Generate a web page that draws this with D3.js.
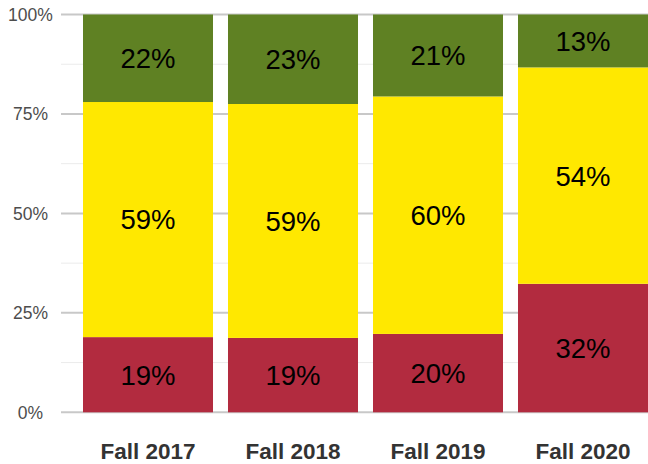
<!DOCTYPE html>
<html>
<head>
<meta charset="utf-8">
<script src="https://cdn.jsdelivr.net/npm/d3@7"></script>
<style>
  body { margin: 0; background: #fff; }
  svg { display: block; font-family: "Liberation Sans", Arial, sans-serif; }
</style>
</head>
<body>
<div id="chart"></div>
<script>
var width = 648,
    height = 464;

// categories and stacked shares (percent), bottom to top
var terms = ["Fall 2017", "Fall 2018", "Fall 2019", "Fall 2020"];
var redVals = [18.9, 18.7, 19.7, 32.3];
var yellowVals = [59.1, 58.8, 59.7, 54.4];
var greenVals = [22.0, 22.5, 20.6, 13.3];
var yTicks = [0, 0.25, 0.5, 0.75, 1];
var yMinor = [0.125, 0.375, 0.625, 0.875];

var colors = ["#b22b3f", "#ffe800", "#5f8123"];

var svg = d3.select("#chart").append("svg")
    .attr("width", width)
    .attr("height", height);

// panel runs a bit past the right edge, like the original crop
var x = d3.scaleBand()
    .domain(terms)
    .range([75.5, 655.5])
    .paddingInner(0.1034)
    .paddingOuter(0.0517);

var y = d3.scaleLinear()
    .domain([0, 1])
    .range([412.3, 14.5]);

// gridlines
svg.append("g").selectAll("line.minor")
    .data(yMinor)
    .enter().append("line")
    .attr("class", "minor")
    .attr("x1", 61).attr("x2", width)
    .attr("y1", function(d) { return y(d); })
    .attr("y2", function(d) { return y(d); })
    .attr("stroke", "#ebebeb")
    .attr("stroke-width", 1);

svg.append("g").selectAll("line.major")
    .data(yTicks)
    .enter().append("line")
    .attr("class", "major")
    .attr("x1", 61).attr("x2", width)
    .attr("y1", function(d) { return y(d); })
    .attr("y2", function(d) { return y(d); })
    .attr("stroke", "#c8c8c8")
    .attr("stroke-width", 2);

var rows = terms.map(function(t, i) {
    return { term: t, red: redVals[i], yellow: yellowVals[i], green: greenVals[i] };
});

var stack = d3.stack().keys(["red", "yellow", "green"]);
var series = stack(rows);

var layer = svg.append("g").selectAll("g")
    .data(series)
    .enter().append("g")
    .attr("fill", function(d, i) { return colors[i]; });

layer.selectAll("rect")
    .data(function(d) { return d; })
    .enter().append("rect")
    .attr("x", function(d) { return x(d.data.term); })
    .attr("width", x.bandwidth())
    .attr("y", function(d) { return y(d[1] / 100); })
    .attr("height", function(d) { return y(d[0] / 100) - y(d[1] / 100); });

layer.selectAll("text")
    .data(function(d) { return d; })
    .enter().append("text")
    .attr("x", function(d) { return x(d.data.term) + x.bandwidth() / 2; })
    .attr("y", function(d) { return y((d[0] + d[1]) / 200); })
    .attr("dy", "0.36em")
    .attr("text-anchor", "middle")
    .attr("fill", "#000")
    .style("font-size", "27.5px")
    .text(function(d) { return Math.round(d[1] - d[0]) + "%"; });

// y axis labels
svg.append("g").selectAll("text")
    .data(yTicks)
    .enter().append("text")
    .attr("x", 30.5)
    .attr("y", function(d) { return y(d); })
    .attr("dy", "0.36em")
    .attr("text-anchor", "middle")
    .attr("fill", "#4d4d4d")
    .style("font-size", "17.5px")
    .text(d3.format(".0%"));

// x axis labels
svg.append("g").selectAll("text")
    .data(terms)
    .enter().append("text")
    .attr("x", function(d) { return x(d) + x.bandwidth() / 2; })
    .attr("y", 459)
    .attr("text-anchor", "middle")
    .attr("fill", "#333")
    .style("font-size", "22.5px")
    .style("font-weight", "bold")
    .text(function(d) { return d; });
</script>
</body>
</html>
